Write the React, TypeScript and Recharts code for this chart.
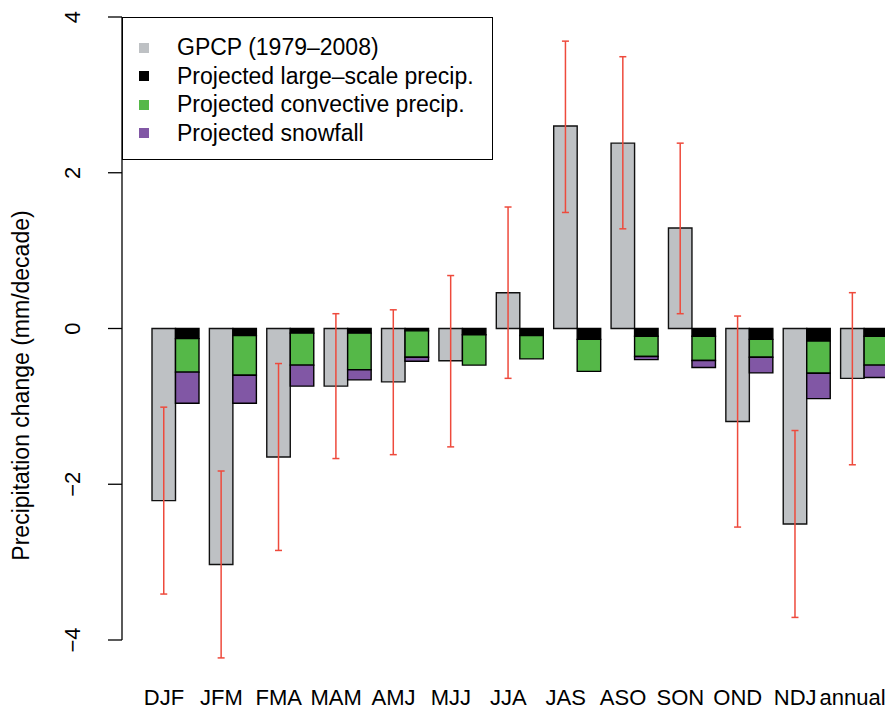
import { BarChart, Bar, XAxis, YAxis, ErrorBar } from "recharts";

// seasonal precipitation trends, mm/decade
const seasons = ["DJF", "JFM", "FMA", "MAM", "AMJ", "MJJ", "JJA", "JAS", "ASO", "SON", "OND", "NDJ", "annual"];
const gpcp = [-2.21, -3.03, -1.65, -0.74, -0.685, -0.415, 0.46, 2.6, 2.38, 1.29, -1.195, -2.51, -0.64];
const gpcpLow = [-3.41, -4.23, -2.85, -1.67, -1.62, -1.52, -0.64, 1.49, 1.28, 0.19, -2.55, -3.71, -1.75];
const gpcpHigh = [-1.01, -1.83, -0.45, 0.19, 0.24, 0.68, 1.56, 3.69, 3.49, 2.38, 0.16, -1.31, 0.46];
const largeScale = [-0.13, -0.09, -0.06, -0.06, -0.03, -0.08, -0.09, -0.14, -0.1, -0.1, -0.14, -0.16, -0.1];
const convective = [-0.43, -0.51, -0.41, -0.47, -0.34, -0.39, -0.3, -0.41, -0.26, -0.31, -0.23, -0.415, -0.37];
const snowfall = [-0.4, -0.36, -0.27, -0.13, -0.05, 0, 0, 0, -0.04, -0.09, -0.2, -0.325, -0.16];
const yTicks = [-4, -2, 0, 2, 4];

const GRAY = "#bec1c4";
const GREEN = "#55b848";
const PURPLE = "#8157a5";
const RED = "#ee4a3c";
const FONT = "'Liberation Sans', Arial, sans-serif";
const BAR_W = 23.5;

const data = seasons.map((season, i) => ({
  season,
  gpcp: gpcp[i],
  gpcpErr: [gpcp[i] - gpcpLow[i], gpcpHigh[i] - gpcp[i]],
  large: largeScale[i],
  conv: convective[i],
  snow: snowfall[i],
}));

const legendItems = [
  { label: "GPCP (1979\u20132008)", color: GRAY },
  { label: "Projected large\u2013scale precip.", color: "#000" },
  { label: "Projected convective precip.", color: GREEN },
  { label: "Projected snowfall", color: PURPLE },
];

// season names sit under the GPCP bar, not the group centre
const SeasonTick = ({ x, y, payload }: any) => (
  <text x={x - BAR_W / 2} y={y} dy={57} textAnchor="middle" fontSize={22} fontFamily={FONT} fill="#000">
    {payload.value}
  </text>
);

const ValueTick = ({ x, y, payload }: any) => {
  const bx = x - 26;
  const v = payload.value;
  return (
    <text
      x={bx}
      y={y}
      textAnchor="middle"
      fontSize={22}
      fontFamily={FONT}
      fill="#000"
      transform={`rotate(-90, ${bx}, ${y})`}
    >
      {v < 0 ? `\u2212${Math.abs(v)}` : v}
    </text>
  );
};

const YTitle = ({ viewBox }: any) => {
  const tx = viewBox.x + 29;
  const ty = viewBox.y + viewBox.height / 2 + 57;
  return (
    <text x={tx} y={ty} textAnchor="middle" fontSize={23} fontFamily={FONT} fill="#000" transform={`rotate(-90, ${tx}, ${ty})`}>
      Precipitation change (mm/decade)
    </text>
  );
};

export default function App() {
  return (
    <div
      style={{
        position: "absolute",
        left: 0,
        top: 0,
        width: 885,
        height: 713,
        overflow: "hidden",
        background: "#fff",
        fontFamily: FONT,
      }}
    >
      <BarChart
        width={900}
        height={713}
        data={data}
        margin={{ top: 17, right: 7, bottom: 13, left: 0 }}
        barGap={0}
        barSize={BAR_W}
      >
        <XAxis
          dataKey="season"
          axisLine={false}
          tickLine={false}
          tick={<SeasonTick />}
          interval={0}
          height={60}
          padding={{ left: 25, right: 0 }}
        />
        <YAxis
          type="number"
          domain={[-4, 4]}
          ticks={yTicks}
          width={122}
          tickSize={14}
          tickLine={{ stroke: "#000", strokeWidth: 1.3 }}
          axisLine={{ stroke: "#000", strokeWidth: 1.3 }}
          tick={<ValueTick />}
          allowDataOverflow
          label={{ content: <YTitle /> }}
        />
        {/* observed trend, left bar of each season */}
        <Bar dataKey="gpcp" stackId="obs" fill={GRAY} stroke="#111" strokeWidth={1.4} isAnimationActive={false}>
          <ErrorBar dataKey="gpcpErr" stroke={RED} strokeWidth={1.5} width={3.5} direction="y" isAnimationActive={false} />
        </Bar>
        {/* projected components stacked downward from zero */}
        <Bar dataKey="large" stackId="proj" fill="#000" stroke="#000" strokeWidth={1.4} isAnimationActive={false} />
        <Bar dataKey="conv" stackId="proj" fill={GREEN} stroke="#000" strokeWidth={1.4} isAnimationActive={false} />
        <Bar dataKey="snow" stackId="proj" fill={PURPLE} stroke="#000" strokeWidth={1.4} isAnimationActive={false} />
      </BarChart>

      <div
        style={{
          position: "absolute",
          left: 122,
          top: 17,
          width: 371,
          height: 143,
          border: "1.3px solid #000",
          boxSizing: "border-box",
          background: "#fff",
        }}
      >
        {legendItems.map((item, i) => (
          <div
            key={item.label}
            style={{
              position: "absolute",
              left: 0,
              top: 15.5 + i * 28.5,
              height: 28,
              display: "flex",
              alignItems: "center",
              whiteSpace: "nowrap",
            }}
          >
            <span style={{ display: "inline-block", width: 10, height: 10, marginLeft: 16, background: item.color }} />
            <span style={{ marginLeft: 28, fontSize: 23, color: "#000" }}>{item.label}</span>
          </div>
        ))}
      </div>
    </div>
  );
}
